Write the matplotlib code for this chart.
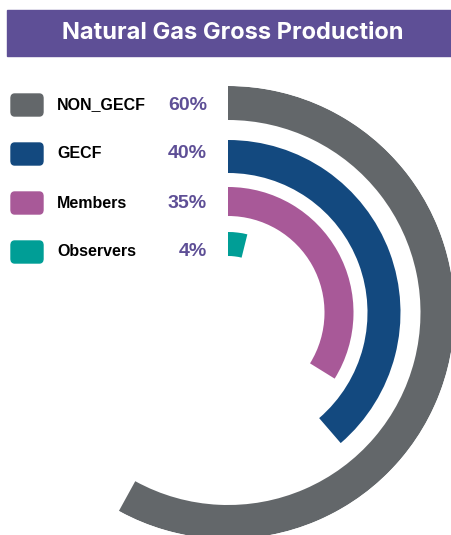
import numpy as np
import matplotlib
matplotlib.use('Agg')
import matplotlib.pyplot as plt
from matplotlib.patches import Rectangle, FancyBboxPatch

# data
labels = ['NON_GECF', 'GECF', 'Members', 'Observers']
shares = [60, 40, 35, 4]
title = 'Natural Gas Gross Production'

colors = ['#63676a', '#13497f', '#a85998', '#009e96']
purple = '#5e4f96'

W, H = 452, 535
fig = plt.figure(figsize=(W / 100, H / 100), dpi=100, facecolor='white')

# polar axes centred on the ring centre (pixel coords)
cx, cy, R = 228, 312.5, 226.5
ax = fig.add_axes([(cx - R) / W, (H - cy - R) / H, 2 * R / W, 2 * R / H], polar=True)
ax.set_theta_zero_location('N')
ax.set_theta_direction(-1)
ax.set_ylim(0, R)
ax.axis('off')

# ring radii (outer, inner) in px
rings = [(226.5, 192.5), (172.5, 139.5), (125.5, 96.5), (80.5, 56.5)]
full = np.deg2rad(348)
for v, (ro, ri), c in zip(shares, rings, colors):
    ax.bar(0, ro - ri, width=v / 100 * full, bottom=ri, align='edge',
           color=c, linewidth=0)

# title bar
fig.patches.append(Rectangle((7 / W, 1 - 56 / H), (W - 7) / W, 46 / H,
                             transform=fig.transFigure, color=purple, zorder=0))
fig.text(233 / W, 1 - 33 / H, title, color='white', fontsize=17,
         fontweight='bold', family='Inter', ha='center', va='center')

# legend
row_y = [105, 154, 203, 252]
for lab, v, c, y in zip(labels, shares, colors, row_y):
    fig.patches.append(FancyBboxPatch((11 / W, 1 - (y + 11) / H), 32 / W, 22 / H,
                                      boxstyle='round,pad=0,rounding_size=0.008',
                                      transform=fig.transFigure, color=c))
    fig.text(57 / W, 1 - y / H, lab, fontsize=11.5, fontweight='bold',
             family='Liberation Sans', color='black', va='center', ha='left')
    fig.text(207 / W, 1 - y / H, '%d%%' % v, fontsize=14, fontweight='bold',
             family='Liberation Sans', color=purple, va='center', ha='right')

fig.savefig('out.png', dpi=100, facecolor='white')
